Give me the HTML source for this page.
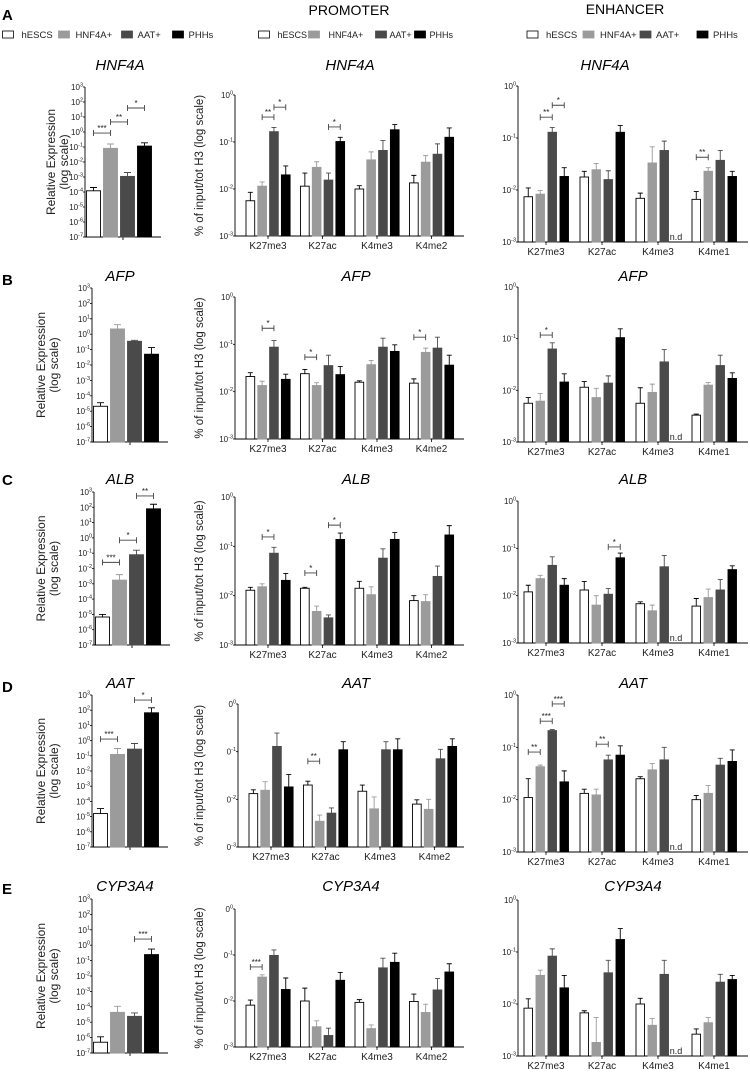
<!DOCTYPE html>
<html><head><meta charset="utf-8"><style>
html,body{margin:0;padding:0;background:#fff;}
svg{display:block;font-family:"Liberation Sans",Arial,sans-serif;}
</style></head><body>
<svg id="fig" width="750" height="1074" viewBox="0 0 750 1074" xmlns="http://www.w3.org/2000/svg"></svg>
<script>
// ---- data (log10 values) ----
const sampleNames = ["hESCS","HNF4A+","AAT+","PHHs"];
const genes = ["HNF4A","AFP","ALB","AAT","CYP3A4"];
const promMarks = ["K27me3","K27ac","K4me3","K4me2"];
const enhMarks = ["K27me3","K27ac","K4me3","K4me1"];
const exprTicks = [3,2,1,0,-1,-2,-3,-4,-5,-6,-7];
const chipTicks = [0,-1,-2,-3];

const exprLog = [
  [-3.92,-1.09,-2.96,-0.94],
  [-4.68,0.34,-0.46,-1.3],
  [-5.17,-2.76,-1.1,1.9],
  [-4.8,-0.91,-0.56,1.83],
  [-6.3,-4.36,-4.62,-0.61]];
const exprErrLog = [
  [-3.7,-0.8,-2.7,-0.72],
  [-4.45,0.62,-0.4,-0.87],
  [-5.0,-2.4,-0.8,2.2],
  [-4.47,-0.52,-0.19,2.16],
  [-5.95,-3.97,-4.4,-0.25]];

const promLog = [
  [[-2.25,-1.94,-0.78,-1.70],[-1.94,-1.54,-1.81,-0.99],[-2.0,-1.38,-1.18,-0.74],[-1.87,-1.43,-1.26,-0.9]],
  [[-1.68,-1.87,-1.06,-1.74],[-1.62,-1.87,-1.45,-1.64],[-1.80,-1.43,-1.06,-1.15],[-1.82,-1.17,-1.08,-1.44]],
  [[-1.89,-1.82,-1.14,-1.69],[-1.85,-2.32,-2.45,-0.86],[-1.85,-1.98,-1.24,-0.86],[-2.10,-2.12,-1.61,-0.77]],
  [[-1.88,-1.81,-0.89,-1.74],[-1.70,-2.46,-2.29,-0.96],[-1.83,-2.2,-0.96,-0.96],[-2.1,-2.21,-1.15,-0.89]],
  [[-2.09,-1.48,-1.01,-1.75],[-2.0,-2.56,-2.75,-1.55],[-2.03,-2.6,-1.28,-1.16],[-2.01,-2.25,-1.76,-1.37]]];
const promErrLog = [
  [[-2.07,-1.85,-0.69,-1.51],[-1.66,-1.42,-1.66,-0.9],[-1.93,-1.21,-0.97,-0.63],[-1.71,-1.29,-1.04,-0.7]],
  [[-1.6,-1.78,-0.92,-1.63],[-1.53,-1.81,-1.23,-1.47],[-1.77,-1.34,-0.87,-1.01],[-1.73,-1.08,-0.85,-1.23]],
  [[-1.83,-1.76,-1.02,-1.55],[-1.83,-2.21,-2.39,-0.73],[-1.71,-1.82,-1.05,-0.72],[-2.0,-1.98,-1.40,-0.58]],
  [[-1.8,-1.63,-0.61,-1.48],[-1.62,-2.33,-2.18,-0.79],[-1.7,-1.95,-0.79,-0.73],[-2.01,-2.0,-0.95,-0.73]],
  [[-1.98,-1.43,-0.89,-1.5],[-1.72,-2.43,-2.59,-1.38],[-1.97,-2.52,-1.07,-0.96],[-1.85,-2.07,-1.51,-1.19]]];

const enhLog = [
  [[-2.13,-2.08,-0.89,-1.74],[-1.75,-1.61,-1.8,-0.89],[-2.16,-1.48,-1.24,null],[-2.18,-1.64,-1.43,-1.74]],
  [[-2.25,-2.21,-1.2,-1.84],[-1.94,-2.14,-1.86,-0.98],[-2.25,-2.04,-1.45,null],[-2.48,-1.9,-1.52,-1.77]],
  [[-1.92,-1.64,-1.36,-1.78],[-1.88,-2.2,-1.97,-1.2],[-2.17,-2.32,-1.39,null],[-2.22,-2.04,-1.88,-1.45]],
  [[-1.96,-1.37,-0.68,-1.66],[-1.88,-1.91,-1.24,-1.15],[-1.6,-1.43,-1.24,null],[-2.0,-1.88,-1.34,-1.27]],
  [[-2.08,-1.45,-1.08,-1.69],[-2.17,-2.74,-1.4,-0.76],[-2.0,-2.41,-1.43,null],[-2.58,-2.36,-1.58,-1.53]]];
const enhErrLog = [
  [[-1.96,-2.01,-0.8,-1.57],[-1.64,-1.49,-1.63,-0.76],[-2.06,-1.17,-1.06,null],[-2.03,-1.57,-1.24,-1.64]],
  [[-2.14,-2.06,-1.08,-1.68],[-1.83,-1.96,-1.72,-0.81],[-1.95,-1.88,-1.21,null],[-2.46,-1.85,-1.32,-1.66]],
  [[-1.78,-1.57,-1.18,-1.64],[-1.7,-2.0,-1.85,-1.1],[-2.13,-2.2,-1.15,null],[-2.06,-1.86,-1.66,-1.37]],
  [[-1.6,-1.34,-0.66,-1.45],[-1.8,-1.8,-1.15,-0.97],[-1.56,-1.31,-1.0,null],[-1.92,-1.73,-1.21,-1.05]],
  [[-1.9,-1.35,-0.94,-1.45],[-2.13,-2.26,-1.16,-0.55],[-1.89,-2.28,-1.16,null],[-2.48,-2.26,-1.43,-1.45]]];

// significance: [row, group, fromBar, toBar, levelLog10, label]
const exprSig = [[0,0,0,1,-0.07,"***"],[0,0,1,2,0.67,"**"],[0,0,2,3,1.6,"*"],
  [2,0,0,1,-1.6,"***"],[2,0,1,2,-0.15,"*"],[2,0,2,3,2.74,"**"],
  [3,0,0,1,0.1,"***"],[3,0,2,3,2.67,"*"],[4,0,2,3,0.4,"***"]];
const promSig = [[0,0,1,2,-0.47,"**"],[0,0,2,3,-0.26,"*"],[0,1,2,3,-0.68,"*"],
  [1,0,1,2,-0.66,"*"],[1,1,0,1,-1.27,"*"],[1,3,0,1,-0.85,"*"],
  [2,0,1,2,-0.81,"*"],[2,1,0,1,-1.54,"*"],[2,1,2,3,-0.57,"*"],
  [3,1,0,1,-1.2,"**"],[4,0,0,1,-1.26,"***"]];
const enhSig = [[0,0,1,2,-0.6,"**"],[0,0,2,3,-0.37,"*"],[0,3,0,1,-1.37,"**"],
  [1,0,1,2,-0.93,"*"],[2,1,2,3,-0.97,"*"],
  [3,0,0,1,-1.09,"**"],[3,0,1,2,-0.5,"***"],[3,0,2,3,-0.17,"***"],[3,1,1,2,-0.94,"**"]];

// ---- layout ----
const fills = ["#ffffff","#9b9b9b","#4a4a4a","#000000"];
const strokes = ["#000000","#9b9b9b","#4a4a4a","#000000"];
const rowLayout = [
  {letter:"A", ly:14, ty:70, ex:[85,87,237], ext:120, eyl:57, pr:[235,95,236], prt:350, en:[518,86,242], ent:605, pre:"10"},
  {letter:"B", ly:279, ty:281, ex:[92,288,442], ext:120, eyl:47, pr:[235,297,439], prt:356, en:[518,287,442], ent:633, pre:"10"},
  {letter:"C", ly:479, ty:484, ex:[94,492,645], ext:120, eyl:47, pr:[235,497,645], prt:356, en:[518,501,643], ent:633, pre:"10"},
  {letter:"D", ly:686, ty:688, ex:[92,695,847], ext:120, eyl:47, pr:[238,704,847], prt:356, en:[518,695,852], ent:633, pre:"0"},
  {letter:"E", ly:888, ty:891, ex:[92,899,1053], ext:125, eyl:47, pr:[235,909,1047], prt:351, en:[518,900,1056], ent:633, pre:"0"}];

const NS = "http://www.w3.org/2000/svg";
const svg = document.getElementById("fig");
function mk(tag, attrs, parent){
  const e = document.createElementNS(NS, tag);
  for (const k in attrs) e.setAttribute(k, attrs[k]);
  (parent||svg).appendChild(e);
  return e;
}
function txt(s, attrs, parent){ const t = mk("text", attrs, parent); t.textContent = s; return t; }
function yScale(v, top, bot, vmax, vmin){ return top + (vmax - v) / (vmax - vmin) * (bot - top); }
function tickLabel(g, x, y, pre, exp){
  const t = mk("text", {x:x, y:y+3, "text-anchor":"end", "font-size":"8", fill:"#222"}, g);
  t.appendChild(document.createTextNode(pre));
  const s = document.createElementNS(NS, "tspan");
  s.setAttribute("dy", "-3.5"); s.setAttribute("font-size", "5.5");
  s.textContent = exp; t.appendChild(s);
  
  
}

// headers
let h = txt("PROMOTER", {x:349, y:15, "text-anchor":"middle", "font-size":"14"});


h = txt("ENHANCER", {x:625, y:14, "text-anchor":"middle", "font-size":"14"});



// legends
function legend(x0, offsets, textOff, fs, name){
  const g = mk("g", {});
  
  
  for (let j = 0; j < 4; j++){
    const it = mk("g", {}, g);
    
    
    mk("rect", {x:x0+offsets[j], y:31, width:11, height:7, fill:fills[j], stroke:strokes[j], "stroke-width":"0.8"}, it);
    txt(sampleNames[j], {x:x0+offsets[j]+textOff[j], y:38, "font-size":fs, fill:"#222"}, it);
  }
}
legend(2.5, [0,56,119,170], [19,17,16,16], "9.5", "legend-expression");
legend(258.5, [0,50,117,156], [19,20,14,15], "9", "legend-promoter");
legend(527, [0,56,113,170], [19,17,16,16], "9.5", "legend-enhancer");

function bracket(g, x1, x2, y, label){
  const b = mk("g", {}, g);
  
  
  mk("path", {d:`M${x1} ${y-3}V${y+3}M${x1} ${y}H${x2}M${x2} ${y-3}V${y+3}`, stroke:"#444", "stroke-width":"0.9", fill:"none"}, b);
  txt(label, {x:(x1+x2)/2, y:y-2, "text-anchor":"middle", "font-size":"8", fill:"#222"}, b);
}

function bar(g, x, w, yTop, yBot, yErr, j, capW){
  const r = mk("rect", {x:x, y:yTop, width:w, height:Math.max(0,yBot-yTop), fill:fills[j], stroke:strokes[j], "stroke-width":"0.9"}, g);
  
  
  const cx = x + w/2;
  const e = mk("path", {d:`M${cx} ${yTop}V${yErr}M${cx-capW/2} ${yErr}H${cx+capW/2}`, stroke:strokes[j], "stroke-width":"0.9", fill:"none"}, g);
  
  
}

rowLayout.forEach((L, r) => {
  const lt = txt(L.letter, {x:2, y:L.ly+6, "font-size":"15", "font-weight":"bold"});
  
  

  // ---------- expression panel ----------
  const [ax, top, bot] = L.ex;
  const ge = mk("g", {});
  
  
  let t = txt(genes[r], {x:L.ext, y:L.ty, "text-anchor":"middle", "font-size":"15", "font-style":"italic"}, ge);
  
  
  const yl = mk("text", {transform:`translate(${L.eyl},${(top+bot)/2}) rotate(-90)`, "text-anchor":"middle", "font-size":"12", fill:"#222"}, ge);
  
  
  const s1 = document.createElementNS(NS,"tspan"); s1.setAttribute("x","0"); s1.setAttribute("dy","-2"); s1.textContent="Relative Expression"; yl.appendChild(s1);
  const s2 = document.createElementNS(NS,"tspan"); s2.setAttribute("x","0"); s2.setAttribute("dy","13"); s2.textContent="(log scale)"; yl.appendChild(s2);
  mk("path", {d:`M${ax} ${top}V${bot}H${ax+76}M${ax+38} ${bot}V${bot+3}`, stroke:"#000", "stroke-width":"0.9", fill:"none"}, ge);
  exprTicks.forEach(tk => {
    const y = yScale(tk, top, bot, 3, -7);
    mk("path", {d:`M${ax-2} ${y}H${ax}`, stroke:"#000", "stroke-width":"0.8"}, ge);
    tickLabel(ge, ax-2, y, "10", String(tk));
  });
  for (let j = 0; j < 4; j++){
    const x = ax + 1.5 + j*17;
    bar(ge, x, 14, yScale(exprLog[r][j], top, bot, 3, -7), bot, yScale(exprErrLog[r][j], top, bot, 3, -7), j, 7);
  }
  exprSig.filter(s => s[0] === r).forEach(s => {
    const x1 = ax + 1.5 + s[2]*17 + 7, x2 = ax + 1.5 + s[3]*17 + 7;
    bracket(ge, x1, x2, yScale(s[4], top, bot, 3, -7), s[5]);
  });

  // ---------- ChIP panels ----------
  function chip(cfg, vals, errs, marks, sigs, titleX, name, step, bstep, bw, x0off, axEnd, showYTitle){
    const [cx0, ct, cb] = cfg;
    const g = mk("g", {});
    
    
    const tt = txt(genes[r], {x:titleX, y:L.ty, "text-anchor":"middle", "font-size":"15", "font-style":"italic"}, g);
    
    
    if (showYTitle){
      const yt = txt("% of input/tot H3 (log scale)", {transform:`translate(203,${(ct+cb)/2}) rotate(-90)`, "text-anchor":"middle", "font-size":"11.5", fill:"#222"}, g);
      
      
    }
    mk("path", {d:`M${cx0} ${ct}V${cb}H${axEnd}`, stroke:"#000", "stroke-width":"0.9", fill:"none"}, g);
    chipTicks.forEach(tk => {
      const y = yScale(tk, ct, cb, 0, -3);
      mk("path", {d:`M${cx0-2} ${y}H${cx0}`, stroke:"#000", "stroke-width":"0.8"}, g);
      tickLabel(g, cx0-2, y, showYTitle ? L.pre : "10", String(tk));
    });
    marks.forEach((m, gi) => {
      const gc = cx0 + x0off + gi*step;
      mk("path", {d:`M${gc} ${cb}V${cb+3}`, stroke:"#000", "stroke-width":"0.8"}, g);
      const lab = txt(m, {x:gc, y:cb+13, "text-anchor":"middle", "font-size":"10", fill:"#222"}, g);
      
      
      for (let j = 0; j < 4; j++){
        const x = gc - 22 + j*bstep;
        const v = vals[r][gi][j];
        if (v === null){
          const nd = txt("n.d", {x:x+4, y:cb-2, "text-anchor":"middle", "font-size":"9", fill:"#222"}, g);
          
          
          continue;
        }
        bar(g, x, bw, yScale(v, ct, cb, 0, -3), cb, yScale(errs[r][gi][j], ct, cb, 0, -3), j, 5);
      }
    });
    sigs.filter(s => s[0] === r).forEach(s => {
      const gc = cx0 + x0off + s[1]*step;
      bracket(g, gc - 22 + s[2]*bstep + bw/2, gc - 22 + s[3]*bstep + bw/2, yScale(s[4], ct, cb, 0, -3), s[5]);
    });
  }
  chip(L.pr, promLog, promErrLog, promMarks, promSig, L.prt, "promoter-chart", 54.5, 11.8, 8.7, 33, 464, true);
  chip(L.en, enhLog, enhErrLog, enhMarks, enhSig, L.ent, "enhancer-chart", 56, 12, 8.5, 28, 748, false);
});
</script>
</body></html>
